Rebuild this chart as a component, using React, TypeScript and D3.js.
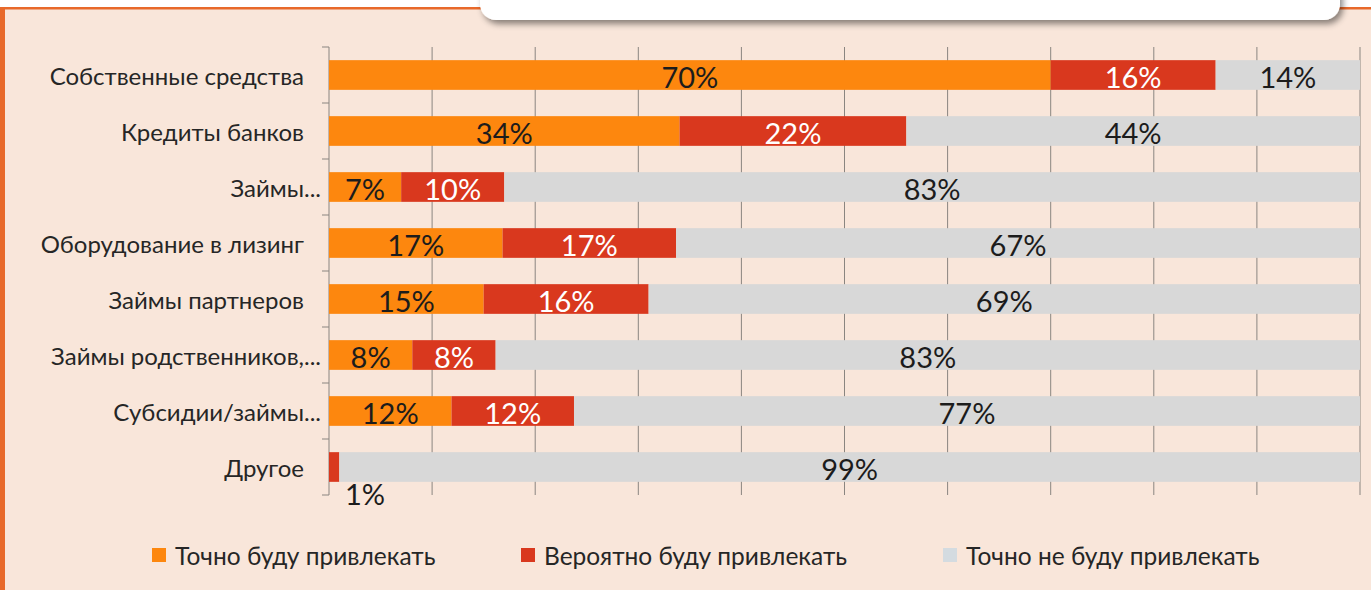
import React from "react";
import * as d3 from "d3";

const categories = [
  "Собственные средства",
  "Кредиты банков",
  "Займы...",
  "Оборудование в лизинг",
  "Займы партнеров",
  "Займы родственников,...",
  "Субсидии/займы...",
  "Другое",
];
const seriesNames = ["Точно буду привлекать", "Вероятно буду привлекать", "Точно не буду привлекать"];
const definitely = [70, 34, 7, 17, 15, 8, 12, 0];
const probably = [16, 22, 10, 17, 16, 8, 12, 1];
const notAtAll = [14, 44, 83, 67, 69, 83, 77, 99];
const xTicks = [0, 10, 20, 30, 40, 50, 60, 70, 80, 90, 100];

const colors = ["#fd870e", "#d9381e", "#d8d8d8"];
const legendColors = ["#fd870e", "#d9381e", "#d4dbe0"];
const labelColors = ["#1c1c1c", "#ffffff", "#1c1c1c"];
const FONT = "Lato, 'Open Sans', sans-serif";

export default function App() {
  const W = 1371, H = 590;
  const x = d3.scaleLinear().domain([0, 100]).range([329, 1360]);
  const y = d3.scaleBand<string>().domain(categories).range([47, 495]).paddingInner(0.47).paddingOuter(0.235);
  const rows = categories.map((c, i) => ({ cat: c, v: [definitely[i], probably[i], notAtAll[i]] }));
  const stacked = rows.map((r) => {
    const total = d3.sum(r.v);
    let acc = 0;
    return r.v.map((v, k) => {
      const p0 = (acc / total) * 100;
      acc += v;
      const p1 = (acc / total) * 100;
      return { k, v, p0, p1 };
    });
  });
  const bw = y.bandwidth();
  const step = y.step();
  const boundaries = d3.range(categories.length + 1).map((i) => 47 + i * step);

  const legendX = [152, 521, 943];

  return (
    <svg width={W} height={H} style={{ position: "absolute", left: 0, top: 0 }}>
      <defs>
        <filter id="sh" x="-5%" y="-50%" width="110%" height="200%">
          <feDropShadow dx="3" dy="4" stdDeviation="3" floodColor="#000" floodOpacity="0.45" />
        </filter>
      </defs>
      <rect x={0} y={0} width={W} height={H} fill="#ffffff" />
      <rect x={5} y={9} width={W - 5} height={H - 9} fill="#f9e6da" />
      <rect x={0} y={7} width={W} height={2.5} fill="#e8692a" />
      <rect x={0} y={7} width={5} height={H} fill="#e8692a" />
      <rect x={480} y={-30} width={860} height={50} rx={16} fill="#ffffff" filter="url(#sh)" />

      {/* gridlines */}
      {xTicks.slice(1).map((t) => (
        <line key={t} x1={x(t)} x2={x(t)} y1={47} y2={495} stroke="#8a8580" strokeWidth={1} />
      ))}
      {/* axis */}
      <line x1={329} x2={329} y1={47} y2={495} stroke="#8a8580" strokeWidth={1} />
      {boundaries.map((b, i) => (
        <line key={i} x1={322} x2={329} y1={b} y2={b} stroke="#8a8580" strokeWidth={1} />
      ))}

      {/* bars */}
      {stacked.map((segs, i) =>
        segs.map((s) =>
          s.v > 0 ? (
            <rect
              key={i + "-" + s.k}
              x={x(s.p0)}
              y={y(categories[i])!}
              width={x(s.p1) - x(s.p0)}
              height={bw}
              fill={colors[s.k]}
            />
          ) : null
        )
      )}
      {/* data labels */}
      {stacked.map((segs, i) =>
        segs.map((s) => {
          if (s.v <= 0) return null;
          const w = x(s.p1) - x(s.p0);
          const cy = y(categories[i])! + bw / 2;
          if (w < 25) {
            return (
              <text key={"l" + i + s.k} x={x(s.p0) + 16} y={cy + 26} fontFamily={FONT} fontSize={29}
                textAnchor="start" dominantBaseline="central" fill="#1c1c1c">
                {s.v + "%"}
              </text>
            );
          }
          return (
            <text key={"l" + i + s.k} x={(x(s.p0) + x(s.p1)) / 2} y={cy + 1} fontFamily={FONT} fontSize={29}
              textAnchor="middle" dominantBaseline="central" fill={labelColors[s.k]}>
              {s.v + "%"}
            </text>
          );
        })
      )}
      {/* category labels */}
      {categories.map((c) => (
        <text key={c} x={c.endsWith("...") ? 321 : 304} y={y(c)! + bw / 2} fontFamily={FONT} fontSize={24}
          textAnchor="end" dominantBaseline="central" fill="#262626">
          {c}
        </text>
      ))}
      {/* legend */}
      {seriesNames.map((n, k) => (
        <g key={n}>
          <rect x={legendX[k]} y={548} width={14} height={14} fill={legendColors[k]} />
          <text x={legendX[k] + 23} y={555} fontFamily={FONT} fontSize={24.5} dominantBaseline="central" fill="#262626">
            {n}
          </text>
        </g>
      ))}
    </svg>
  );
}
